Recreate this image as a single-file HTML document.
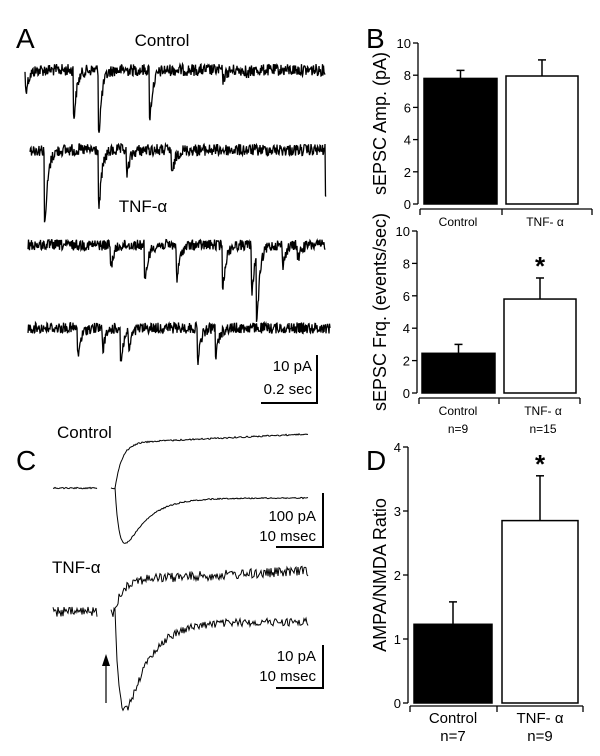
<!DOCTYPE html>
<html><head><meta charset="utf-8"><style>
html,body{margin:0;padding:0;background:#fff}
svg{display:block;font-family:"Liberation Sans",sans-serif}
</style></head><body>
<svg id="fig" width="600" height="756" viewBox="0 0 600 756">
<g id="panelA">
<text x="16" y="48" font-size="28">A</text>
<text x="162" y="46" font-size="17" text-anchor="middle">Control</text>
<text x="143" y="212" font-size="17" text-anchor="middle">TNF-α</text>
<g>
<path d="M317 355 V403 H261" fill="none" stroke="#000" stroke-width="2"/>
<text x="312" y="371" font-size="15" text-anchor="end">10 pA</text>
<text x="312" y="394" font-size="15" text-anchor="end">0.2 sec</text>
</g>
</g>
<g id="panelC">
<text x="16" y="470" font-size="28">C</text>
<text x="57" y="438" font-size="17">Control</text>
<text x="52" y="573" font-size="17">TNF-α</text>
<g>
<path d="M323 493 V547 H276" fill="none" stroke="#000" stroke-width="2"/>
<text x="316" y="521" font-size="15" text-anchor="end">100  pA</text>
<text x="316" y="541" font-size="15" text-anchor="end">10 msec</text>
</g>
<g>
<path d="M323 645 V688 H276" fill="none" stroke="#000" stroke-width="2"/>
<text x="316" y="661" font-size="15" text-anchor="end">10  pA</text>
<text x="316" y="681" font-size="15" text-anchor="end">10 msec</text>
</g>
<g>
<line x1="106" y1="703" x2="106" y2="664" stroke="#000" stroke-width="1.2"/>
<polygon points="106,654 102,666 110,666" fill="#000"/>
</g>
</g>
<text x="366" y="48" font-size="28">B</text>
<text x="366" y="470" font-size="28">D</text>
</svg>
<script>
// ---------- Bar chart data ----------
const barCategories = ["Control", "TNF- α"];
const ampValues = [7.8, 7.95];
const ampErrors = [0.5, 1.0];
const frqValues = [2.45, 5.8];
const frqErrors = [0.55, 1.3];
const ratioValues = [1.23, 2.85];
const ratioErrors = [0.35, 0.7];
const ampTicks = [0, 2, 4, 6, 8, 10];
const frqTicks = [0, 2, 4, 6, 8, 10];
const ratioTicks = [0, 1, 2, 3, 4];
const frqN = ["n=9", "n=15"];
const ratioN = ["n=7", "n=9"];

// ---------- Trace event data (x position in px within trace, amplitude in px) ----------
const trace1Events = [[25, 20], [73, 47], [98, 63], [149, 47], [222, 10], [246, 6]];
const trace2Events = [[44, 76], [98, 59], [126, 25], [171, 26], [325, 50]];
const trace3Events = [[110, 22], [144, 38], [176, 35], [222, 42], [251, 47], [256, 68], [282, 20], [297, 14]];
const trace4Events = [[77, 29], [102, 21], [120, 33], [128, 19], [197, 32], [215, 27]];

const NS = "http://www.w3.org/2000/svg";
const svg = document.getElementById("fig");
function mk(tag, attrs, parent) {
  const e = document.createElementNS(NS, tag);
  for (const k in attrs) e.setAttribute(k, attrs[k]);
  (parent || svg).appendChild(e);
  return e;
}
let seed = 12345;
function rnd() { seed = (seed * 1103515245 + 12345) % 2147483648; return seed / 2147483648; }

// ---------- Bar charts ----------
function barChart(name, o, vals, errs, ticks, nLabels, star) {
  const g = mk("g", {});
  
  
  const y = v => o.y0 - (v - ticks[0]) / (ticks[ticks.length - 1] - ticks[0]) * (o.y0 - o.y1);
  mk("line", {x1: o.ax, x2: o.ax, y1: y(ticks[ticks.length - 1]), y2: o.y0, stroke: "#000", "stroke-width": 1.3}, g);
  ticks.forEach(t => {
    mk("line", {x1: o.ax - 5, x2: o.ax, y1: y(t), y2: y(t), stroke: "#000", "stroke-width": 1.3}, g);
    const tx = mk("text", {x: o.ax - 7, y: y(t) + 5, "font-size": 13, "text-anchor": "end"}, g);
    tx.textContent = t;
  });
  mk("line", {x1: o.ax + 2, x2: o.xend, y1: o.base, y2: o.base, stroke: "#000", "stroke-width": 1.3}, g);
  [o.ax + 2, o.xmid, o.xend].forEach(x => mk("line", {x1: x, x2: x, y1: o.base, y2: o.base + 6, stroke: "#000", "stroke-width": 1.3}, g));
  const t = mk("text", {transform: `translate(${o.tx},${(o.y0 + y(ticks[ticks.length-1])) / 2}) rotate(-90)`, "font-size": 18, "text-anchor": "middle"}, g);
  t.textContent = o.title;
  
  
  vals.forEach((v, i) => {
    const b = o.bars[i];
    const cx = (b[0] + b[1]) / 2;
    mk("line", {x1: cx, x2: cx, y1: y(v), y2: y(v + errs[i]), stroke: "#000", "stroke-width": 1.5}, g);
    mk("line", {x1: cx - 4, x2: cx + 4, y1: y(v + errs[i]), y2: y(v + errs[i]), stroke: "#000", "stroke-width": 1.5}, g);
    const r = mk("rect", {x: b[0], y: y(v), width: b[1] - b[0], height: y(0) - y(v), fill: i === 0 ? "#000" : "#fff", stroke: "#000", "stroke-width": 1.5}, g);
    
    
    const lb = mk("text", {x: o.labx[i], y: o.base + 17, "font-size": o.lfs, "text-anchor": "middle"}, g);
    lb.textContent = barCategories[i];
    
    
    if (nLabels) {
      const nl = mk("text", {x: o.labx[i], y: o.base + 35, "font-size": o.lfs, "text-anchor": "middle"}, g);
      nl.textContent = nLabels[i];
    }
    if (star && i === 1) {
      const s = mk("text", {x: cx, y: y(v + errs[i]) - 3, "font-size": 26, "font-weight": "bold", "text-anchor": "middle"}, g);
      s.textContent = "*";
      
      
    }
  });
}
barChart("amplitude-chart", {ax: 418, y0: 204, y1: 43, base: 209, xmid: 502, xend: 592, tx: 386, title: "sEPSC Amp. (pA)", bars: [[424, 497], [506, 578]], labx: [458, 545], lfs: 12}, ampValues, ampErrors, ampTicks, null, false);
barChart("frequency-chart", {ax: 417, y0: 393, y1: 231, base: 398, xmid: 499, xend: 580, tx: 386, title: "sEPSC Frq. (events/sec)", bars: [[422, 495], [504, 576]], labx: [458, 543], lfs: 12}, frqValues, frqErrors, frqTicks, frqN, true);
barChart("ampa-nmda-chart", {ax: 408, y0: 703, y1: 447, base: 706, xmid: 497, xend: 583, tx: 386, title: "AMPA/NMDA Ratio", bars: [[414, 492], [502, 578]], labx: [453, 540], lfs: 15}, ratioValues, ratioErrors, ratioTicks, ratioN, true);

// ---------- Traces ----------
const RISE = 0.4, DECAY = 3;
let shapeMax = 0;
for (let t = 0; t < 20; t += 0.05) shapeMax = Math.max(shapeMax, (1 - Math.exp(-t / RISE)) * Math.exp(-t / DECAY));
function sponTrace(name, x0, x1, base, events, noise) {
  let d = "";
  for (let x = x0; x <= x1; x += 0.5) {
    let v = base + (rnd() - 0.5) * noise;
    events.forEach(ev => {
      const t = x - ev[0];
      if (t >= 0) v += ev[1] * (1 - Math.exp(-t / RISE)) * Math.exp(-t / DECAY) / shapeMax;
    });
    d += (d ? "L" : "M") + x.toFixed(1) + " " + v.toFixed(1);
  }
  const p = mk("path", {d: d, fill: "none", stroke: "#000", "stroke-width": 1.3});
  
  
}
sponTrace("trace-control-1", 25, 325, 70, trace1Events, 12);
sponTrace("trace-control-2", 30, 326, 150, trace2Events, 12);
sponTrace("trace-tnf-1", 28, 325, 245, trace3Events, 11);
sponTrace("trace-tnf-2", 28, 330, 328, trace4Events, 11);

// evoked traces in C: [baseline y, upper plateau shift, lower peak depth, lower steady shift]
const evokedControl = [488, -45, 50, 10];
const evokedTnf = [612, -32, 96, 10];
function evoked(name, p, noise) {
  const [base, up, pk, st] = p;
  let d = "";
  for (let x = 53; x <= 97; x += 1) d += (x === 53 ? "M" : "L") + x + " " + (base + (rnd() - 0.5) * noise).toFixed(1);
  for (let x = 111; x <= 115; x += 1) d += (x === 111 ? "M" : "L") + x + " " + (base + (rnd() - 0.5) * noise).toFixed(1);
  let du = "M115 " + base;
  for (let x = 115; x <= 308; x += 1) {
    const t = x - 115;
    const v = base + up * (1 - Math.exp(-t / 7)) - (t / 193) * 9 + (rnd() - 0.5) * noise;
    du += "L" + x + " " + v.toFixed(1);
  }
  let dl = "M115 " + base;
  for (let x = 115; x <= 308; x += 1) {
    const t = x - 115;
    const a = (Math.exp(-t / 22) - Math.exp(-t / 5)) / 0.543;
    const v = base + st * (1 - Math.exp(-t / 4)) + pk * a + (rnd() - 0.5) * noise * 0.8;
    dl += "L" + x + " " + v.toFixed(1);
  }
  [d, du, dl].forEach((s, i) => {
    const pth = mk("path", {d: s, fill: "none", stroke: "#000", "stroke-width": 1});
    
    
  });
}
evoked("evoked-control", evokedControl, 1.5);
evoked("evoked-tnf", evokedTnf, 10);
</script>
</body></html>
